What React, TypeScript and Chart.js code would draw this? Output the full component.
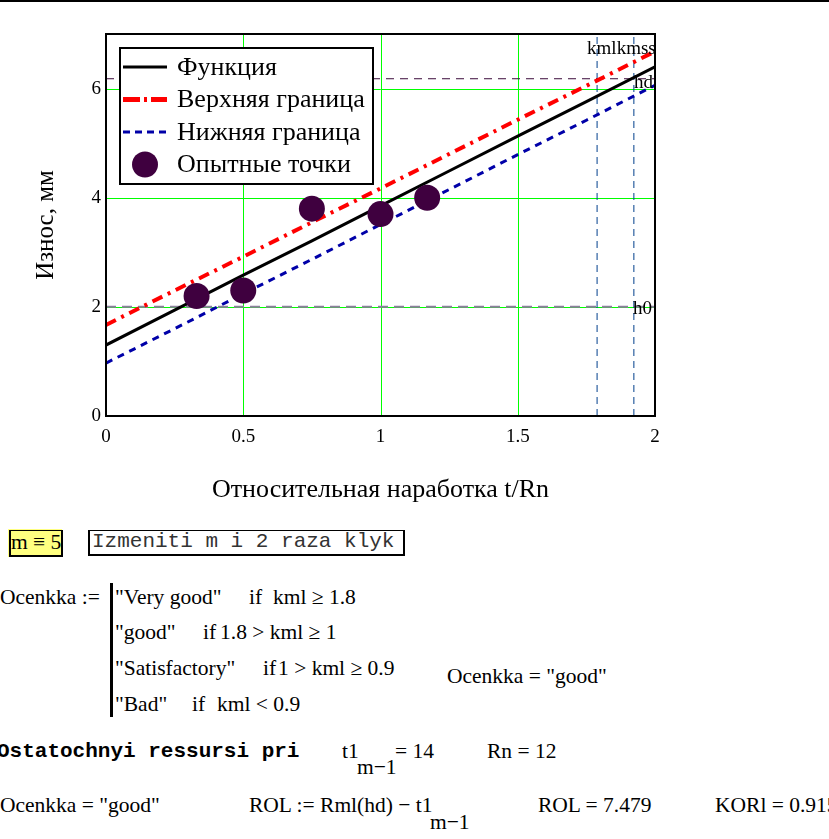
import React, { useEffect, useRef } from 'react';
import { Chart, registerables } from 'chart.js';

Chart.register(...registerables);

// ---- data ----
const tValues = [0, 0.25, 0.5, 0.75, 1, 1.25, 1.5, 1.75, 2];
const functionValues = [1.3, 1.94, 2.58, 3.21, 3.85, 4.49, 5.13, 5.76, 6.4];
const upperValues = [1.67, 2.3, 2.92, 3.55, 4.17, 4.8, 5.43, 6.05, 6.68];
const lowerValues = [0.97, 1.6, 2.24, 2.87, 3.51, 4.15, 4.79, 5.42, 6.06];
const pointT = [0.33, 0.5, 0.75, 1.0, 1.17];
const pointWear = [2.2, 2.3, 3.8, 3.7, 4.0];
const hdValue = 6.18;
const h0Value = 2.0;
const kmlValue = 1.789;
const kmssValue = 1.923;
const xRange = [0, 2];
const yRange = [0, 7];
const xTicks = [0, 0.5, 1, 1.5, 2];
const yTicks = [0, 2, 4, 6];
const legendLabels = ['Функция', 'Верхняя граница', 'Нижняя граница', 'Опытные точки'];
const xTitle = 'Относительная наработка t/Rn';
const yTitle = 'Износ, мм';

const SERIF = '"Liberation Serif", "Times New Roman", serif';
const MONO = '"Liberation Mono", "Courier New", monospace';

const COL_FUNC = '#000000';
const COL_UP = '#ff0000';
const COL_LOW = '#0000a8';
const COL_PT = '#3f003f';
const COL_GRID = '#00ff00';

const pairs = (xs: number[], ys: number[]) => xs.map((x, i) => ({ x, y: ys[i] }));

const gridPlugin = {
  id: 'customGrid',
  beforeDatasetsDraw(chart: any) {
    const { ctx, chartArea: a, scales } = chart;
    ctx.save();
    ctx.strokeStyle = COL_GRID;
    ctx.lineWidth = 1;
    ctx.setLineDash([]);
    xTicks.forEach((v) => {
      if (v === xRange[0] || v === xRange[1]) return;
      const px = Math.round(scales.x.getPixelForValue(v)) + 0.5;
      ctx.beginPath();
      ctx.moveTo(px, a.top);
      ctx.lineTo(px, a.bottom);
      ctx.stroke();
    });
    yTicks.forEach((v) => {
      if (v === yRange[0] || v === yRange[1]) return;
      const py = Math.round(scales.y.getPixelForValue(v)) + 0.5;
      ctx.beginPath();
      ctx.moveTo(a.left, py);
      ctx.lineTo(a.right, py);
      ctx.stroke();
    });
    ctx.restore();
  },
};

const overlayPlugin = {
  id: 'overlay',
  afterDraw(chart: any) {
    const { ctx, chartArea: a, scales } = chart;
    const xs = scales.x;
    const ys = scales.y;
    ctx.save();
    // frame
    ctx.strokeStyle = '#000';
    ctx.lineWidth = 2;
    ctx.setLineDash([]);
    ctx.strokeRect(a.left, a.top, a.right - a.left, a.bottom - a.top);

    // labels on reference lines
    ctx.fillStyle = '#000';
    ctx.font = '19px ' + SERIF;
    ctx.textBaseline = 'middle';
    ctx.textAlign = 'left';
    ctx.fillText('kmlkmss', xs.getPixelForValue(kmlValue) - 10, a.top + 15);
    ctx.textAlign = 'right';
    ctx.fillText('hd', xs.getPixelForValue(xRange[1]) - 2, ys.getPixelForValue(hdValue) + 4);
    ctx.fillText('h0', xs.getPixelForValue(xRange[1]) - 3, ys.getPixelForValue(h0Value) + 2);

    // legend
    const bx = a.left + 14;
    const by = a.top + 14;
    const bw = 253;
    const bh = 136;
    ctx.fillStyle = '#fff';
    ctx.fillRect(bx, by, bw, bh);
    ctx.strokeStyle = '#000';
    ctx.lineWidth = 2;
    ctx.strokeRect(bx, by, bw, bh);
    const rowY = (i: number) => by + 19 + i * 32.5;
    const sx0 = bx + 3;
    const sx1 = bx + 47;
    ctx.lineWidth = 3;
    ctx.strokeStyle = COL_FUNC;
    ctx.setLineDash([]);
    ctx.beginPath();
    ctx.moveTo(sx0, rowY(0));
    ctx.lineTo(sx1, rowY(0));
    ctx.stroke();
    ctx.lineWidth = 5;
    ctx.strokeStyle = COL_UP;
    ctx.setLineDash([17, 4, 3, 4]);
    ctx.beginPath();
    ctx.moveTo(sx0, rowY(1));
    ctx.lineTo(sx1, rowY(1));
    ctx.stroke();
    ctx.lineWidth = 3;
    ctx.strokeStyle = COL_LOW;
    ctx.setLineDash([7, 5]);
    ctx.beginPath();
    ctx.moveTo(sx0, rowY(2));
    ctx.lineTo(sx1 + 2, rowY(2));
    ctx.stroke();
    ctx.setLineDash([]);
    ctx.fillStyle = COL_PT;
    ctx.beginPath();
    ctx.arc(bx + 25, rowY(3), 13, 0, Math.PI * 2);
    ctx.fill();
    ctx.fillStyle = '#000';
    ctx.font = '26px ' + SERIF;
    ctx.textAlign = 'left';
    ctx.textBaseline = 'middle';
    legendLabels.forEach((t, i) => ctx.fillText(t, bx + 57, rowY(i) + 1));
    ctx.restore();
  },
};

function ChartView() {
  const ref = useRef<HTMLCanvasElement | null>(null);
  useEffect(() => {
    if (!ref.current) return;
    const chart = new Chart(ref.current, {
      type: 'scatter',
      data: {
        datasets: [
          {
            label: legendLabels[3],
            data: pairs(pointT, pointWear),
            showLine: false,
            pointRadius: 13,
            pointHoverRadius: 13,
            pointBackgroundColor: COL_PT,
            pointBorderColor: COL_PT,
            pointBorderWidth: 0,
            order: 0,
          },
          {
            label: legendLabels[0],
            data: pairs(tValues, functionValues),
            showLine: true,
            borderColor: COL_FUNC,
            borderWidth: 3,
            pointRadius: 0,
            order: 1,
          },
          {
            label: legendLabels[1],
            data: pairs(tValues, upperValues),
            showLine: true,
            borderColor: COL_UP,
            borderWidth: 4,
            borderDash: [11, 6, 3, 6],
            pointRadius: 0,
            order: 2,
          },
          {
            label: legendLabels[2],
            data: pairs(tValues, lowerValues),
            showLine: true,
            borderColor: COL_LOW,
            borderWidth: 3,
            borderDash: [7, 6],
            pointRadius: 0,
            order: 3,
          },
          {
            label: 'hd',
            data: pairs(xRange, [hdValue, hdValue]),
            showLine: true,
            borderColor: '#3a0a3a',
            borderWidth: 1,
            borderDash: [8, 6],
            pointRadius: 0,
            order: 5,
          },
          {
            label: 'h0',
            data: pairs(xRange, [h0Value, h0Value]),
            showLine: true,
            borderColor: '#8c7f9c',
            borderWidth: 2,
            borderDash: [10, 6],
            pointRadius: 0,
            order: 5,
          },
          {
            label: 'kml',
            data: pairs([kmlValue, kmlValue], yRange),
            showLine: true,
            borderColor: '#003f8c',
            borderWidth: 1,
            borderDash: [7, 5],
            pointRadius: 0,
            order: 6,
          },
          {
            label: 'kmss',
            data: pairs([kmssValue, kmssValue], yRange),
            showLine: true,
            borderColor: '#003f8c',
            borderWidth: 1,
            borderDash: [7, 5],
            pointRadius: 0,
            order: 6,
          },
        ],
      },
      options: {
        animation: false,
        responsive: false,
        events: [],
        layout: { padding: { left: 0, top: 34, right: 174, bottom: 0 } },
        plugins: {
          legend: { display: false },
          tooltip: { enabled: false },
        },
        scales: {
          x: {
            type: 'linear',
            min: xRange[0],
            max: xRange[1],
            afterFit: (s: any) => {
              s.height = 94;
            },
            afterBuildTicks: (s: any) => {
              s.ticks = xTicks.map((v) => ({ value: v }));
            },
            grid: { display: false, drawTicks: false },
            border: { display: true, color: '#000', width: 2 },
            ticks: {
              padding: 10,
              color: '#000',
              font: { family: SERIF, size: 19 },
              maxRotation: 0,
              callback: (v: any) => String(v),
            },
            title: {
              display: true,
              text: xTitle,
              color: '#000',
              font: { family: SERIF, size: 26 },
              padding: { top: 0, bottom: 4 },
            },
          },
          y: {
            type: 'linear',
            min: yRange[0],
            max: yRange[1],
            afterFit: (s: any) => {
              s.width = 106;
            },
            afterBuildTicks: (s: any) => {
              s.ticks = yTicks.map((v) => ({ value: v }));
            },
            grid: { display: false, drawTicks: false },
            border: { display: true, color: '#000', width: 2 },
            ticks: {
              padding: 5,
              color: '#000',
              font: { family: SERIF, size: 19 },
              callback: (v: any) => String(v),
            },
            title: {
              display: true,
              text: yTitle,
              color: '#000',
              font: { family: SERIF, size: 25 },
              padding: { top: 31, bottom: 0 },
            },
          },
        },
      },
      plugins: [gridPlugin, overlayPlugin],
    } as any);
    return () => chart.destroy();
  }, []);
  return (
    <canvas
      ref={ref}
      width={829}
      height={510}
      style={{ position: 'absolute', left: 0, top: 0, width: 829, height: 510 }}
    />
  );
}

const FS = 21.5;

function T(props: { x: number; y: number; children: any; font?: string; size?: number; bold?: boolean; color?: string }) {
  const size = props.size || FS;
  return (
    <div
      style={{
        position: 'absolute',
        left: props.x,
        top: props.y - size * 0.6,
        fontFamily: props.font || SERIF,
        fontSize: size,
        lineHeight: size * 1.2 + 'px',
        fontWeight: props.bold ? 'bold' : 'normal',
        color: props.color || '#000',
        whiteSpace: 'pre',
      }}
    >
      {props.children}
    </div>
  );
}

export default function App() {
  return (
    <div
      style={{
        position: 'absolute',
        left: 0,
        top: 0,
        width: 829,
        height: 839,
        overflow: 'hidden',
        background: '#fff',
      }}
    >
      <div style={{ position: 'absolute', left: 0, top: 0, width: 829, height: 2, background: '#000' }} />
      <ChartView />

      {/* m = 5 box */}
      <div style={{ position: 'absolute', left: 8, top: 529, width: 54, height: 28, background: '#ffff80' }} />
      <div
        style={{
          position: 'absolute',
          left: 9,
          top: 530,
          width: 50,
          height: 24,
          border: '2px solid #000',
          borderTopWidth: 1,
        }}
      />
      <T x={11} y={543}>m ≡ 5</T>

      {/* comment box */}
      <div
        style={{
          position: 'absolute',
          left: 88,
          top: 530,
          width: 313,
          height: 23,
          border: '2px solid #000',
          borderTopWidth: 1,
        }}
      />
      <T x={92} y={542} font={MONO} size={21} color="#333">Izmeniti m i 2 raza klyk</T>

      {/* Ocenkka program */}
      <T x={0} y={598}>Ocenkka :=</T>
      <div style={{ position: 'absolute', left: 110, top: 583, width: 3, height: 134, background: '#000' }} />
      <T x={115} y={598}>"Very good"</T>
      <T x={249} y={598}>if</T>
      <T x={273} y={598}>kml ≥ 1.8</T>
      <T x={115} y={633}>"good"</T>
      <T x={203} y={633}>if</T>
      <T x={220} y={633}>1.8 &gt; kml ≥ 1</T>
      <T x={115} y={669}>"Satisfactory"</T>
      <T x={263} y={669}>if</T>
      <T x={278} y={669}>1 &gt; kml ≥ 0.9</T>
      <T x={115} y={705}>"Bad"</T>
      <T x={192} y={705}>if</T>
      <T x={217} y={705}>kml &lt; 0.9</T>
      <T x={447} y={677}>Ocenkka = "good"</T>

      {/* residual resource */}
      <T x={-3} y={752} font={MONO} size={21} bold>Ostatochnyi ressursi pri</T>
      <T x={342} y={752}>t1</T>
      <T x={357} y={768}>m−1</T>
      <T x={395} y={752}>= 14</T>
      <T x={487} y={752}>Rn = 12</T>

      <T x={0} y={806}>Ocenkka = "good"</T>
      <T x={249} y={806}>ROL := Rml(hd) − t1</T>
      <T x={430} y={823}>m−1</T>
      <T x={538} y={806}>ROL = 7.479</T>
      <T x={715} y={806}>KORl = 0.915</T>
    </div>
  );
}
